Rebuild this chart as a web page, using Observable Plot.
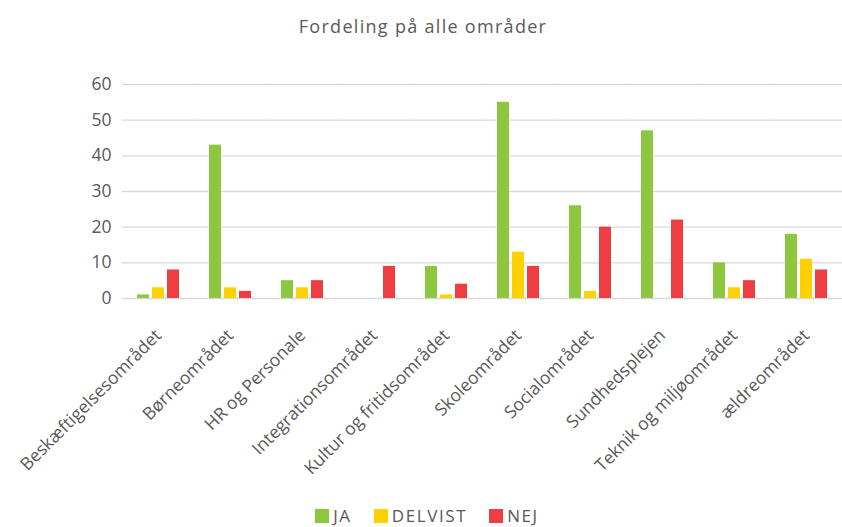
<!DOCTYPE html>
<html>
<head>
<meta charset="utf-8">
<script src="https://cdn.jsdelivr.net/npm/d3@7"></script>
<script src="https://cdn.jsdelivr.net/npm/@observablehq/plot@0.6"></script>
<style>
  html, body { margin: 0; padding: 0; background: #fff; }
  body { position: relative; width: 842px; height: 527px; overflow: hidden; font-family: "Open Sans", sans-serif; color: #595959; }
  #title { height: 50px; box-sizing: border-box; padding-top: 15px; padding-left: 4px; text-align: center; font-size: 18px; line-height: 22px; color: #595959; letter-spacing: 1.3px; }
  #legend { position: absolute; left: 0; top: 506px; width: 842px; height: 20px; box-sizing: border-box; padding-left: 34px; display: flex; justify-content: center; align-items: center; }
  .leg-swatches { font-family: "Open Sans", sans-serif; font-size: 17px; line-height: 20px; letter-spacing: 1.6px; color: #595959; margin: 0 !important; min-height: 0 !important; }
  .leg-swatch { margin-right: 22px !important; }
  .leg-swatch > svg { margin-right: 4px !important; }
</style>
</head>
<body>
<div id="title">Fordeling på alle områder</div>
<div id="chart"></div>
<div id="legend"></div>
<script>
const categories = [
  "Beskæftigelsesområdet",
  "Børneområdet",
  "HR og Personale",
  "Integrationsområdet",
  "Kultur og fritidsområdet",
  "Skoleområdet",
  "Socialområdet",
  "Sundhedsplejen",
  "Teknik og miljøområdet",
  "ældreområdet"
];
const series = ["JA", "DELVIST", "NEJ"];
const seriesColors = ["#8dc63f", "#ffd100", "#ef3e42"];
const ja      = [1, 43, 5, 0, 9, 55, 26, 47, 10, 18];
const delvist = [3, 3, 3, 0, 1, 13, 2, 0, 3, 11];
const nej     = [8, 2, 5, 9, 4, 9, 20, 22, 5, 8];
const yTicks  = [0, 10, 20, 30, 40, 50, 60];

const valuesBySeries = {JA: ja, DELVIST: delvist, NEJ: nej};
const data = categories.flatMap((c, i) =>
  series.map(s => ({category: c, series: s, value: valuesBySeries[s][i]}))
);

const chart = Plot.plot({
  width: 842,
  height: 440,
  marginTop: 34,
  marginBottom: 192,
  marginLeft: 121,
  marginRight: 0,
  style: {fontFamily: "Open Sans, sans-serif", fontSize: "17.5px", color: "#595959", background: "#fff"},
  fx: {domain: categories, paddingInner: 0.31, paddingOuter: 0.155, label: null, axis: "bottom",
       tickRotate: -45, tickSize: 0, tickPadding: 34},
  x: {domain: series, padding: 0.2, axis: null},
  y: {domain: [0, 60], ticks: yTicks, label: null, tickSize: 0, tickPadding: 22},
  color: {domain: series, range: seriesColors},
  marks: [
    Plot.ruleY(yTicks, {stroke: "#d9d9d9", strokeWidth: 1.3, insetLeft: -11.3, insetRight: -11.3}),
    Plot.barY(data, {fx: "category", x: "series", y: "value", fill: "series"})
  ]
});
document.getElementById("chart").appendChild(chart);

const legend = Plot.legend({
  color: {domain: series, range: seriesColors},
  legend: "swatches",
  swatchSize: 14,
  className: "leg"
});
document.getElementById("legend").appendChild(legend);
</script>
</body>
</html>
